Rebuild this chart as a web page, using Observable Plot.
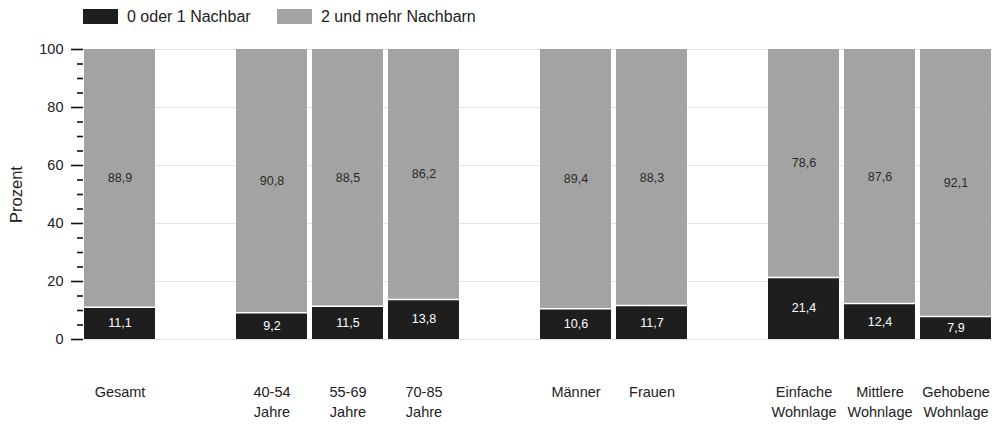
<!DOCTYPE html>
<html>
<head>
<meta charset="utf-8">
<script src="https://cdn.jsdelivr.net/npm/d3@7"></script>
<script src="https://cdn.jsdelivr.net/npm/@observablehq/plot@0.6"></script>
<style>
  html, body { margin: 0; padding: 0; background: #fff; }
  body { width: 994px; height: 424px; overflow: hidden; font-family: "Liberation Sans", Arial, sans-serif; }
  #legend { position: relative; height: 34px; }
  .item { position: absolute; top: 9px; height: 15px; display: flex; align-items: center; font-size: 16px; color: #222; white-space: nowrap; }
  .sw { flex: none; width: 35px; height: 15px; margin-right: 9px; }
</style>
</head>
<body>
<div id="legend"></div>
<div id="chart"></div>
<script>
const categories = ["Gesamt", "40-54\nJahre", "55-69\nJahre", "70-85\nJahre", "Männer", "Frauen", "Einfache\nWohnlage", "Mittlere\nWohnlage", "Gehobene\nWohnlage"];
const slots = ["Gesamt", " ", "40-54\nJahre", "55-69\nJahre", "70-85\nJahre", "  ", "Männer", "Frauen", "   ", "Einfache\nWohnlage", "Mittlere\nWohnlage", "Gehobene\nWohnlage"];
const seriesNames = ["0 oder 1 Nachbar", "2 und mehr Nachbarn"];
const seriesColors = ["#1e1e1e", "#a3a3a3"];
const lowValues = [11.1, 9.2, 11.5, 13.8, 10.6, 11.7, 21.4, 12.4, 7.9];
const highValues = [88.9, 90.8, 88.5, 86.2, 89.4, 88.3, 78.6, 87.6, 92.1];
const yMajorTicks = [0, 20, 40, 60, 80, 100];
const yMinorTicks = [5, 10, 15, 25, 30, 35, 45, 50, 55, 65, 70, 75, 85, 90, 95];

const data = [];
categories.forEach((c, i) => {
  data.push({category: c, series: seriesNames[0], value: lowValues[i]});
  data.push({category: c, series: seriesNames[1], value: highValues[i]});
});
const lows = categories.map((c, i) => ({category: c, value: lowValues[i]}));
const fmt = v => String(v).replace(".", ",");

// legend
const legend = document.getElementById("legend");
const legendX = [83, 277];
seriesNames.forEach((s, i) => {
  const it = document.createElement("div");
  it.className = "item";
  it.style.left = legendX[i] + "px";
  it.innerHTML = `<div class="sw" style="background:${seriesColors[i]}"></div><span>${s}</span>`;
  legend.appendChild(it);
});

const chart = Plot.plot({
  width: 994,
  height: 390,
  marginLeft: 83,
  marginRight: 2,
  marginTop: 15,
  marginBottom: 85,
  style: {fontFamily: "Liberation Sans, Arial, sans-serif", fontSize: "14.5px", color: "#222", background: "white"},
  x: {domain: slots, paddingInner: 0.06, paddingOuter: 0, axis: null},
  y: {domain: [0, 100], axis: null},
  color: {domain: seriesNames, range: seriesColors},
  marks: [
    Plot.gridY(yMajorTicks, {stroke: "#e4e4e4", strokeOpacity: 1, strokeWidth: 1}),
    Plot.barY(data, Plot.stackY({x: "category", y: "value", fill: "series", order: seriesNames})),
    Plot.tickY(lows, {x: "category", y: "value", stroke: "white", strokeWidth: 1.5}),
    Plot.text(data, Plot.stackY({x: "category", y: "value", order: seriesNames, text: d => fmt(d.value),
      fill: d => d.series === seriesNames[0] ? "#ffffff" : "#2a2a2a", fontSize: 12.5})),
    Plot.axisY({ticks: yMajorTicks, tickSize: 12, tickPadding: 8, strokeWidth: 1.6, stroke: "#111", label: null, fontSize: 14.5}),
    Plot.axisY({ticks: yMinorTicks, tickSize: 6, tickFormat: () => "", strokeWidth: 1.6, stroke: "#111", label: null}),
    Plot.axisX({tickSize: 0, tickPadding: 43, label: null, fontSize: 14.5, lineHeight: 1.38, tickFormat: d => d.trim() === "" ? "" : d}),
    Plot.text(["Prozent"], {frameAnchor: "left", textAnchor: "middle", rotate: -90, dx: -67, fontSize: 16.5, fill: "#222"})
  ]
});
document.getElementById("chart").appendChild(chart);
</script>
</body>
</html>
